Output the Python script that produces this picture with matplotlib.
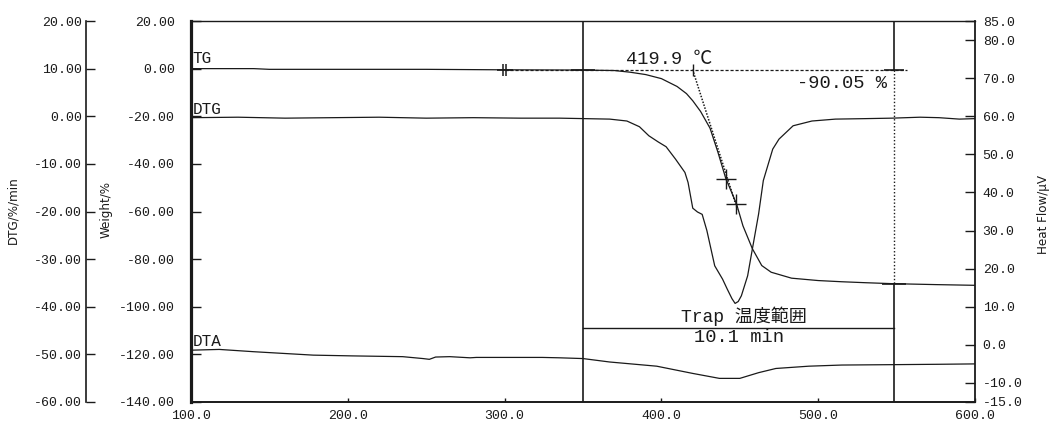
import matplotlib
matplotlib.use('Agg')
import matplotlib.pyplot as plt
from matplotlib.ticker import FixedLocator, FixedFormatter

plt.rcParams['axes.unicode_minus'] = False
MONO = ['Liberation Mono', 'Noto Sans CJK JP', 'DejaVu Sans']
INK = '#1a1a1a'

# ---------------- data ----------------
temp_tg = [100, 140, 150, 200, 250, 300, 350, 370, 380, 390, 400, 410, 416, 420, 425,
           431, 436, 441, 448, 452, 458, 464, 470, 483, 500, 515, 530, 547, 575, 600]
weight_tg = [0.0, 0.0, -0.3, -0.3, -0.3, -0.5, -0.6, -0.8, -1.5, -2.5, -4.2, -7.5, -10.5,
             -13.5, -18.0, -25.0, -35.0, -46.0, -57.0, -66.0, -75.6, -82.7, -85.5, -88.0,
             -89.0, -89.5, -89.9, -90.3, -90.7, -91.0]

temp_dtg = [100, 130, 160, 190, 220, 250, 280, 310, 335, 367, 378, 386, 392, 398, 403, 409,
            415, 417, 420, 423, 426, 429, 434, 439, 442, 445, 447, 449, 451, 455, 458, 462,
            465, 471, 475, 484, 496, 511, 530, 547, 565, 577, 590, 600]
dtg = [-0.3, -0.2, -0.4, -0.3, -0.2, -0.4, -0.3, -0.4, -0.4, -0.6, -1.0, -2.2, -4.1, -5.4,
       -6.4, -9.0, -11.8, -13.9, -19.3, -20.1, -20.6, -24.0, -31.4, -34.2, -36.3, -38.3,
       -39.3, -38.9, -37.7, -33.5, -27.9, -20.5, -13.5, -6.9, -4.8, -2.0, -1.0, -0.6, -0.5,
       -0.4, -0.2, -0.3, -0.6, -0.5]

temp_dta = [100, 118, 140, 178, 203, 235, 248, 252, 256, 265, 278, 282, 324, 335, 350, 367,
            397, 420, 437, 450, 462, 473, 494, 515, 547, 577, 600]
dta = [-1.4, -1.2, -1.8, -2.7, -2.9, -3.1, -3.6, -3.8, -3.2, -3.1, -3.4, -3.3, -3.3, -3.4,
       -3.6, -4.5, -5.6, -7.5, -8.8, -8.8, -7.3, -6.2, -5.6, -5.3, -5.2, -5.1, -5.0]

x_ticks = [100, 200, 300, 400, 500, 600]
x_labels = ['100.0', '200.0', '300.0', '400.0', '500.0', '600.0']
weight_ticks = [20, 0, -20, -40, -60, -80, -100, -120, -140]
weight_labels = ['20.00', '0.00', '-20.00', '-40.00', '-60.00', '-80.00', '-100.00',
                 '-120.00', '-140.00']
dtg_ticks = [20, 10, 0, -10, -20, -30, -40, -50, -60]
dtg_labels = ['20.00', '10.00', '0.00', '-10.00', '-20.00', '-30.00', '-40.00', '-50.00',
              '-60.00']
hf_ticks = [85, 80, 70, 60, 50, 40, 30, 20, 10, 0, -10, -15]
hf_labels = ['85.0', '80.0', '70.0', '60.0', '50.0', '40.0', '30.0', '20.0', '10.0', '0.0',
             '-10.0', '-15.0']

tg_level = -0.4          # weight level of the baseline used for the step
onset_temp = 419.9
step_pct = -90.05
ref_temp = 300.0         # reference mark on TG baseline
trap_start = 350.3
trap_end = 548.4
trap_minutes = 10.1
inflect_temp = [441.2, 447.6]
inflect_weight = [-46.2, -57.0]
tangent_temp = [419.9, 448.5]
tangent_weight = [-0.4, -59.2]

# ---------------- figure ----------------
W, H = 1050, 425
fig = plt.figure(figsize=(W / 100, H / 100), dpi=100)
L, R, T, B = 191, 975, 21, 402
ax = fig.add_axes([L / W, 1 - B / H, (R - L) / W, (B - T) / H])
ax.set_xlim(100, 600)
ax.set_ylim(-140, 20)

ax2 = ax.twinx()   # DTG axis (outer left)
ax2.set_ylim(-60, 20)
ax3 = ax.twinx()   # Heat flow axis (right)
ax3.set_ylim(-15, 85)

# spines
for s in ['top', 'bottom', 'left', 'right']:
    ax.spines[s].set_color(INK)
ax.spines['left'].set_linewidth(2.3)
ax.spines['bottom'].set_linewidth(1.4)
ax.spines['top'].set_linewidth(1.0)
ax.spines['right'].set_visible(False)

for s in ['top', 'bottom', 'right']:
    ax2.spines[s].set_visible(False)
ax2.spines['left'].set_position(('axes', (86 - L) / (R - L)))
ax2.spines['left'].set_linewidth(1.2)
ax2.spines['left'].set_color(INK)
ax2.yaxis.set_ticks_position('left')

for s in ['top', 'bottom', 'left']:
    ax3.spines[s].set_visible(False)
ax3.spines['right'].set_linewidth(1.3)
ax3.spines['right'].set_color(INK)

# ticks
ax.xaxis.set_major_locator(FixedLocator(x_ticks))
ax.xaxis.set_major_formatter(FixedFormatter(x_labels))
ax.yaxis.set_major_locator(FixedLocator(weight_ticks))
ax.yaxis.set_major_formatter(FixedFormatter(weight_labels))
ax2.yaxis.set_major_locator(FixedLocator(dtg_ticks))
ax2.yaxis.set_major_formatter(FixedFormatter(dtg_labels))
ax3.yaxis.set_major_locator(FixedLocator(hf_ticks))
ax3.yaxis.set_major_formatter(FixedFormatter(hf_labels))

ax.tick_params(axis='x', direction='in', length=3, width=1, pad=6, colors=INK)
ax.tick_params(axis='y', direction='in', length=7, width=1, pad=11.5, colors=INK)
ax2.tick_params(axis='y', direction='in', length=6.5, width=1, pad=3, colors=INK)
ax3.tick_params(axis='y', direction='in', length=7, width=1, pad=5.5, colors=INK)
for a in (ax, ax2, ax3):
    for lab in a.get_xticklabels() + a.get_yticklabels():
        lab.set_family(MONO)
        lab.set_fontsize(9.5)

# axis labels
lab_kw = dict(rotation=90, ha='center', va='center', fontsize=9.5, color=INK,
              family='DejaVu Sans', stretch='condensed')
fig.text(13 / W, 1 - 210 / H, 'DTG/%/min', **lab_kw)
fig.text(106 / W, 1 - 210 / H, 'Weight/%', **lab_kw)
fig.text(1044 / W, 1 - 214 / H, 'Heat Flow/\u03bcV', **lab_kw)

# ---------------- curves ----------------
ax.plot(temp_tg, weight_tg, color=INK, lw=0.9)
ax2.plot(temp_dtg, dtg, color=INK, lw=0.9)
ax3.plot(temp_dta, dta, color=INK, lw=0.9)

ax.text(101, 1.2, 'TG', family=MONO, fontsize=11.5, color=INK, ha='left', va='bottom')
ax2.text(101, -0.2, 'DTG', family=MONO, fontsize=11.5, color=INK, ha='left', va='bottom')
ax3.text(101, -1.0, 'DTA', family=MONO, fontsize=11.5, color=INK, ha='left', va='bottom')

# ---------------- analysis annotations ----------------
final_level = tg_level + step_pct
# trap range vertical lines
ax.axvline(trap_start, color=INK, lw=1.2)
ax.plot([trap_end, trap_end], [20, tg_level], color=INK, lw=1.2)
ax.plot([trap_end, trap_end], [tg_level, final_level], color=INK, lw=1.0,
        linestyle=(0, (1, 1.5)))
ax.plot([trap_end, trap_end], [final_level, -140], color=INK, lw=1.2)

# baseline dashed line
ax.plot([ref_temp, trap_end + 8], [tg_level, tg_level], color=INK, lw=0.9,
        linestyle=(0, (2.5, 1.5)))
ax.plot([ref_temp], [tg_level], marker='_', ms=12, mew=1.2, color=INK)
ax.plot([ref_temp - 1.0, ref_temp + 1.0], [tg_level, tg_level], linestyle='none',
        marker='|', ms=9, mew=1.1, color=INK)
ax.plot([trap_start], [tg_level], marker='_', ms=17, mew=1.2, color=INK)
ax.plot([trap_end], [tg_level], marker='_', ms=14, mew=1.2, color=INK)
ax.plot([trap_end], [final_level], marker='_', ms=17, mew=1.2, color=INK)

# onset tangent
ax.plot(tangent_temp, tangent_weight, color=INK, lw=1.1, linestyle=(0, (1, 1)))
ax.plot([onset_temp], [tg_level], marker='|', ms=8, mew=1.0, color=INK)
ax.plot(inflect_temp, inflect_weight, linestyle='none', marker='+', ms=15, mew=1.0,
        color=INK)

ax.text(377.7, 3.9, f'{onset_temp:.1f} \u2103', family=MONO, fontsize=13.5, color=INK,
        ha='left', va='center')
ax.text(544, -6.3, f'{step_pct:.2f} %', family=MONO, fontsize=13.5, color=INK,
        ha='right', va='center')

trap_mid = (trap_start + trap_end) / 2
ax.plot([trap_start, trap_end], [-108.8, -108.8], color=INK, lw=1.0)
ax.text(trap_mid + 3, -104.0, 'Trap \u6e29\u5ea6\u7bc4\u56f2', family=MONO, fontsize=13,
        color=INK, ha='center', va='center')
ax.text(trap_mid, -112.8, f'{trap_minutes:.1f} min', family=MONO, fontsize=13.5,
        color=INK, ha='center', va='center')

fig.savefig('out.png', dpi=100)
